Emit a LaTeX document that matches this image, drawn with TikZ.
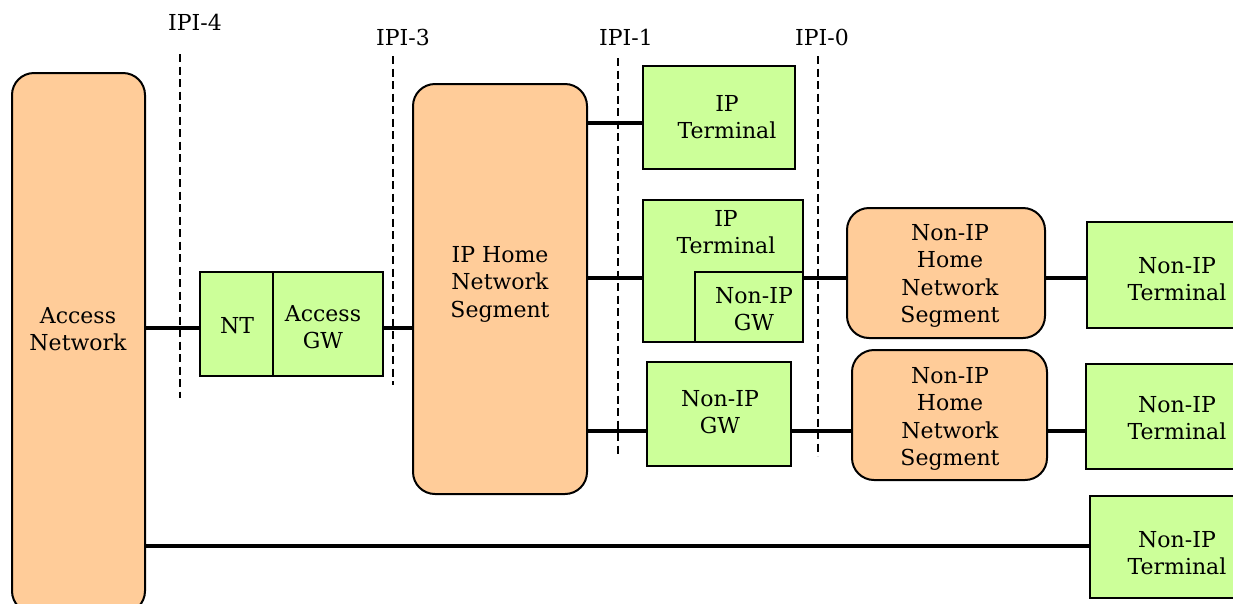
\documentclass[tikz,border=0pt]{standalone}
\usepackage{fontspec}
\setmainfont{DejaVu Serif}
\definecolor{orfill}{HTML}{FFCC99}
\definecolor{grfill}{HTML}{CCFF99}
\newcommand{\fs}{\fontsize{22}{27.5}\selectfont}
\begin{document}
\begin{tikzpicture}[x=1pt,y=-1pt,
  box/.style={draw=black, line width=2pt, inner sep=0pt},
  orbox/.style={box, fill=orfill, rounded corners=22pt},
  grbox/.style={box, fill=grfill},
  txt/.style={font=\fs, inner sep=0pt, align=center},
  conn/.style={line width=4.5pt},
  ipi/.style={line width=1.5pt, dash pattern=on 8pt off 4.5pt}]
\useasboundingbox (0,0) rectangle (1233,603);
% row coordinates for connectors
\coordinate (r0) at (0,328);
\coordinate (r1) at (0,123);
\coordinate (r2) at (0,278);
\coordinate (r3) at (0,431);
\coordinate (r4) at (0,546);
% boxes
\node[orbox, minimum width=133, minimum height=540] (an) at (78.5,343) {};
\node[txt] (ant) at (78,329) {Access\\Network};
\node[grbox, minimum width=73, minimum height=104] (nt) at (236.5,324) {};
\node[txt] (ntt) at (237,326) {NT};
\node[grbox, minimum width=110, minimum height=104] (agw) at (328,324) {};
\node[txt] (agwt) at (323,327) {Access\\GW};
\node[orbox, minimum width=174, minimum height=410] (iph) at (500,289) {};
\node[txt] (ipht) at (500,284) {IP Home\\Network\\Segment};
\node[grbox, minimum width=152, minimum height=103] (ipt1) at (719,117.5) {};
\node[txt] (ipt1t) at (727,117) {IP\\Terminal};
\node[grbox, minimum width=160, minimum height=142] (ipt2) at (723,271) {};
\node[txt] (ipt2t) at (726,232) {IP\\Terminal};
\node[grbox, minimum width=108, minimum height=70] (gw1) at (749,307) {};
\node[txt] (gw1t) at (754,309) {Non-IP\\GW};
\node[orbox, minimum width=198, minimum height=130] (hns1) at (946,273) {};
\node[txt] (hns1t) at (950,276) {Non-IP\\Home\\Network\\Segment};
\node[grbox, minimum width=181, minimum height=106] (nit1) at (1177.5,275) {};
\node[txt] (nit1t) at (1177,279) {Non-IP\\Terminal};
\node[grbox, minimum width=144, minimum height=104] (gw2) at (719,414) {};
\node[txt] (gw2t) at (720,412) {Non-IP\\GW};
\node[orbox, minimum width=195, minimum height=130] (hns2) at (949.5,415) {};
\node[txt] (hns2t) at (950,419) {Non-IP\\Home\\Network\\Segment};
\node[grbox, minimum width=182, minimum height=105] (nit2) at (1177,416.5) {};
\node[txt] (nit2t) at (1177,418) {Non-IP\\Terminal};
\node[grbox, minimum width=178, minimum height=102] (nit3) at (1179,547) {};
\node[txt] (nit3t) at (1177,553) {Non-IP\\Terminal};
% interface labels and dashed lines
\node[txt] (l4) at (195,22) {IPI-4};
\node[txt] (l3) at (403,37) {IPI-3};
\node[txt] (l1) at (626,37) {IPI-1};
\node[txt] (l0) at (822,37) {IPI-0};
\coordinate (d4a) at (180,54);  \coordinate (d4b) at (180,398);
\coordinate (d3a) at (393,56);  \coordinate (d3b) at (393,385);
\coordinate (d1a) at (618,58);  \coordinate (d1b) at (618,455);
\coordinate (d0a) at (818,56);  \coordinate (d0b) at (818,456);
\draw[ipi] (d4a) -- (d4b);
\draw[ipi] (d3a) -- (d3b);
\draw[ipi] (d1a) -- (d1b);
\draw[ipi] (d0a) -- (d0b);
% connectors
\draw[conn] (an.east |- r0) -- (nt.west |- r0);
\draw[conn] (agw.east |- r0) -- (iph.west |- r0);
\draw[conn] (iph.east |- r1) -- (ipt1.west |- r1);
\draw[conn] (iph.east |- r2) -- (ipt2.west |- r2);
\draw[conn] (gw1.east |- r2) -- (hns1.west |- r2);
\draw[conn] (hns1.east |- r2) -- (nit1.west |- r2);
\draw[conn] (iph.east |- r3) -- (gw2.west |- r3);
\draw[conn] (gw2.east |- r3) -- (hns2.west |- r3);
\draw[conn] (hns2.east |- r3) -- (nit2.west |- r3);
\draw[conn] (an.east |- r4) -- (nit3.west |- r4);
\end{tikzpicture}
\end{document}
